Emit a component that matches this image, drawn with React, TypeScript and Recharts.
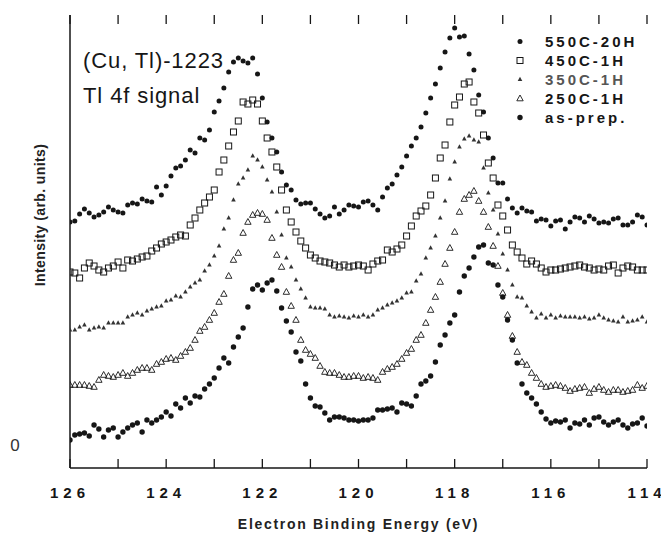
import React from 'react';
import { ScatterChart, Scatter, XAxis, YAxis, Legend, Label, ReferenceLine } from 'recharts';

// Binding energy grid (eV)
const ENERGY = [
  126.0, 125.9, 125.8, 125.7, 125.6, 125.5, 125.4, 125.3, 125.2, 125.1,
  125.0, 124.9, 124.8, 124.7, 124.6, 124.5, 124.4, 124.3, 124.2, 124.1,
  124.0, 123.9, 123.8, 123.7, 123.6, 123.5, 123.4, 123.3, 123.2, 123.1,
  123.0, 122.9, 122.8, 122.7, 122.6, 122.5, 122.4, 122.3, 122.2, 122.1,
  122.0, 121.9, 121.8, 121.7, 121.6, 121.5, 121.4, 121.3, 121.2, 121.1,
  121.0, 120.9, 120.8, 120.7, 120.6, 120.5, 120.4, 120.3, 120.2, 120.1,
  120.0, 119.9, 119.8, 119.7, 119.6, 119.5, 119.4, 119.3, 119.2, 119.1,
  119.0, 118.9, 118.8, 118.7, 118.6, 118.5, 118.4, 118.3, 118.2, 118.1,
  118.0, 117.9, 117.8, 117.7, 117.6, 117.5, 117.4, 117.3, 117.2, 117.1,
  117.0, 116.9, 116.8, 116.7, 116.6, 116.5, 116.4, 116.3, 116.2, 116.1,
  116.0, 115.9, 115.8, 115.7, 115.6, 115.5, 115.4, 115.3, 115.2, 115.1,
  115.0, 114.9, 114.8, 114.7, 114.6, 114.5, 114.4, 114.3, 114.2, 114.1,
  114.0,
];

// Intensities (arb. units, offset curves)
const S550C_20H = [
  223, 224, 231, 236, 232, 228, 230, 233, 238, 235,
  233, 232, 240, 242, 241, 246, 244, 243, 258, 250,
  259, 269, 277, 279, 285, 295, 292, 307, 305, 315,
  333, 344, 357, 373, 383, 387, 384, 382, 387, 371,
  347, 323, 307, 293, 273, 260, 255, 245, 241, 242,
  242, 236, 231, 227, 229, 238, 231, 235, 240, 239,
  238, 243, 244, 240, 235, 248, 257, 261, 270, 278,
  289, 299, 307, 318, 332, 347, 361, 377, 393, 407,
  417, 408, 409, 391, 375, 350, 333, 307, 287, 262,
  262, 246, 237, 232, 237, 234, 233, 224, 226, 225,
  219, 224, 225, 216, 223, 228, 227, 223, 229, 226,
  222, 223, 222, 226, 227, 220, 220, 223, 230, 228,
  220,
];

const S450C_1H = [
  173, 172, 167, 177, 182, 179, 175, 173, 177, 179,
  183, 177, 185, 184, 186, 188, 189, 194, 197, 201,
  203, 205, 208, 210, 209, 220, 227, 235, 242, 248,
  255, 273, 285, 299, 313, 324, 343, 341, 345, 341,
  324, 307, 293, 278, 255, 235, 223, 213, 204, 197,
  190, 187, 184, 183, 182, 180, 178, 180, 178, 179,
  180, 179, 175, 181, 184, 185, 195, 193, 196, 200,
  209, 219, 229, 234, 239, 250, 267, 287, 300, 323,
  340, 348, 361, 363, 343, 332, 310, 282, 267, 240,
  229, 215, 200, 193, 187, 181, 184, 181, 177, 173,
  175, 175, 176, 177, 178, 179, 180, 178, 177, 175,
  176, 175, 179, 180, 172, 177, 179, 178, 175, 175,
  175,
];

const S350C_1H = [
  115, 115, 118, 120, 115, 117, 118, 117, 122, 122,
  122, 122, 128, 130, 132, 130, 134, 136, 138, 139,
  144, 145, 149, 148, 153, 158, 162, 165, 174, 180,
  189, 199, 216, 227, 245, 261, 267, 275, 289, 285,
  278, 265, 253, 233, 210, 187, 178, 165, 156, 147,
  138, 137, 137, 136, 130, 128, 129, 128, 127, 129,
  128, 130, 128, 130, 135, 137, 140, 142, 144, 147,
  152, 153, 164, 171, 187, 197, 209, 227, 244, 266,
  283, 298, 306, 309, 305, 303, 277, 252, 235, 211,
  191, 175, 160, 148, 147, 139, 133, 127, 131, 127,
  130, 127, 129, 128, 128, 128, 127, 128, 126, 127,
  130, 127, 125, 124, 123, 128, 123, 124, 125, 128,
  123,
];

const S250C_1H = [
  60, 60, 60, 60, 59, 58, 65, 70, 69, 68,
  70, 72, 69, 72, 75, 77, 77, 75, 81, 83,
  86, 87, 85, 89, 93, 97, 105, 114, 118, 125,
  132, 143, 151, 169, 185, 192, 212, 223, 230, 232,
  231, 225, 207, 190, 178, 153, 139, 125, 105, 95,
  91, 87, 79, 73, 72, 72, 70, 68, 68, 69,
  69, 67, 68, 67, 65, 73, 76, 78, 81, 86,
  92, 96, 105, 110, 122, 135, 148, 163, 181, 197,
  213, 233, 246, 250, 254, 244, 233, 218, 199, 179,
  152, 130, 109, 93, 83, 80, 72, 67, 61, 58,
  59, 60, 59, 57, 54, 56, 57, 58, 52, 56,
  58, 55, 53, 55, 55, 53, 54, 55, 60, 57,
  59,
];

const AS_PREP = [
  5, 10, 11, 12, 9, 20, 16, 8, 15, 17,
  8, 13, 17, 20, 22, 13, 25, 22, 25, 28,
  33, 29, 41, 37, 47, 42, 49, 48, 56, 61,
  67, 77, 87, 82, 98, 108, 117, 138, 156, 160,
  155, 162, 165, 154, 137, 124, 113, 93, 84, 61,
  47, 39, 38, 32, 25, 28, 28, 27, 25, 25,
  24, 25, 25, 27, 35, 35, 36, 37, 33, 42,
  41, 39, 49, 61, 64, 69, 83, 100, 110, 122,
  130, 153, 169, 177, 188, 198, 200, 182, 180, 160,
  148, 125, 105, 82, 61, 52, 47, 41, 33, 26,
  22, 24, 23, 25, 17, 22, 21, 25, 20, 27,
  28, 23, 20, 23, 25, 20, 17, 21, 22, 27,
  19,
];

const X_TICKS = [126, 125, 124, 123, 122, 121, 120, 119, 118, 117, 116, 115, 114];
const X_LABELED = [126, 124, 122, 120, 118, 116, 114];
const Y_TICKS = [0];
const Y_DOMAIN = [-23, 430];
const TICK_LEN = 9; // in intensity units (= px here)

const SERIES_NAMES = ['550C-20H', '450C-1H', '350C-1H', '250C-1H', 'as-prep.'];

const toPoints = (ys: number[]) => ENERGY.map((x, i) => ({ x, y: ys[i] }));

const FONT = '"Liberation Sans", Arial, Helvetica, sans-serif';
const INK = '#161616';

type MarkerKind = 'dot' | 'square' | 'tri' | 'otri' | 'bigdot';

function Marker({ kind, cx, cy }: { kind: MarkerKind; cx: number; cy: number }) {
  if (cx == null || cy == null || isNaN(cx) || isNaN(cy)) return null;
  switch (kind) {
    case 'dot':
      return <circle cx={cx} cy={cy} r={2.5} fill={INK} />;
    case 'bigdot':
      return <circle cx={cx} cy={cy} r={2.7} fill={INK} />;
    case 'square':
      return <rect x={cx - 3} y={cy - 3} width={6} height={6} fill="none" stroke={INK} strokeWidth={1} />;
    case 'tri':
      return (
        <polygon
          points={`${cx},${cy - 2.7} ${cx - 2.3},${cy + 1.6} ${cx + 2.3},${cy + 1.6}`}
          fill="#333"
        />
      );
    case 'otri':
      return (
        <polygon
          points={`${cx},${cy - 3.5} ${cx - 3.2},${cy + 2.3} ${cx + 3.2},${cy + 2.3}`}
          fill="none"
          stroke={INK}
          strokeWidth={0.9}
        />
      );
  }
  return null;
}

const KINDS: MarkerKind[] = ['dot', 'square', 'tri', 'otri', 'bigdot'];
const DATA_SETS = [S550C_20H, S450C_1H, S350C_1H, S250C_1H, AS_PREP];

const BottomTick = (props: any) => {
  const { x, y, payload } = props;
  const v = payload.value;
  if (!X_LABELED.includes(v)) return <g />;
  return (
    <text
      x={x}
      y={y + 30}
      textAnchor="middle"
      fontFamily={FONT}
      fontWeight="bold"
      fontSize={15}
      letterSpacing={5}
      fill={INK}
    >
      {v}
    </text>
  );
};

const LeftTick = (props: any) => {
  const { x, y, payload } = props;
  return (
    <text x={x - 55} y={y + 6} textAnchor="middle" fontFamily={FONT} fontSize={17} fill="#333">
      {payload.value}
    </text>
  );
};

const LegendContent = () => (
  <div style={{ fontFamily: FONT }}>
    {SERIES_NAMES.map((name, i) => (
      <div key={name} style={{ display: 'flex', alignItems: 'center', height: 19 }}>
        <svg width={16} height={19} style={{ display: 'block' }}>
          <Marker kind={KINDS[i]} cx={8} cy={9.5} />
        </svg>
        <span
          style={{
            marginLeft: 17,
            fontSize: 15,
            fontWeight: 'bold',
            letterSpacing: 3,
            color: i === 2 ? '#555' : INK,
            whiteSpace: 'nowrap',
            lineHeight: '19px',
          }}
        >
          {name}
        </span>
      </div>
    ))}
  </div>
);

export default function App() {
  return (
    <div style={{ position: 'relative', width: 661, height: 527 }}>
      <ScatterChart width={661} height={527} margin={{ top: 7, right: 22, bottom: 0, left: 12 }}>
        <XAxis
          xAxisId="bottom"
          dataKey="x"
          type="number"
          domain={[114, 126]}
          reversed
          ticks={X_TICKS}
          interval={0}
          height={67}
          tickSize={0}
          tickMargin={0}
          tickLine={false}
          axisLine={{ stroke: INK, strokeWidth: 1.5 }}
          tick={<BottomTick />}
          allowDataOverflow
        >
          <Label
            content={(p: any) => {
              const vb = p.viewBox || { x: 62, y: 460, width: 577 };
              return (
                <text
                  x={vb.x + vb.width / 2}
                  y={vb.y + 61}
                  textAnchor="middle"
                  fontFamily={FONT}
                  fontWeight="bold"
                  fontSize={14}
                  letterSpacing={1.7}
                  fill="#222"
                >
                  Electron Binding Energy (eV)
                </text>
              );
            }}
          />
        </XAxis>
        <XAxis
          xAxisId="top"
          orientation="top"
          dataKey="x"
          type="number"
          domain={[114, 126]}
          reversed
          ticks={X_TICKS}
          height={0}
          tick={false}
          tickLine={false}
          axisLine={{ stroke: INK, strokeWidth: 1.5 }}
          allowDataOverflow
        />
        <YAxis
          yAxisId="left"
          dataKey="y"
          type="number"
          domain={Y_DOMAIN}
          ticks={Y_TICKS}
          width={50}
          tickSize={0}
          tickMargin={0}
          tickLine={false}
          axisLine={{ stroke: INK, strokeWidth: 1.5 }}
          tick={<LeftTick />}
          allowDataOverflow
        >
          <Label
            content={(p: any) => {
              const vb = p.viewBox || { x: 12, y: 7 };
              const cx = vb.x + 20;
              const cy = vb.y + 200;
              return (
                <text
                  x={cx}
                  y={cy}
                  transform={`rotate(-90 ${cx} ${cy})`}
                  textAnchor="middle"
                  dominantBaseline="central"
                  fontFamily={FONT}
                  fontWeight="bold"
                  fontSize={14}
                  letterSpacing={0.4}
                  fill="#222"
                >
                  Intensity (arb. units)
                </text>
              );
            }}
          />
        </YAxis>
        <YAxis
          yAxisId="right"
          orientation="right"
          type="number"
          domain={Y_DOMAIN}
          width={0}
          tick={false}
          tickLine={false}
          axisLine={{ stroke: INK, strokeWidth: 1.5 }}
          allowDataOverflow
        />
        {X_TICKS.map((t) => (
          <ReferenceLine
            key={`b${t}`}
            xAxisId="bottom"
            yAxisId="left"
            segment={[
              { x: t, y: Y_DOMAIN[0] },
              { x: t, y: Y_DOMAIN[0] + TICK_LEN },
            ]}
            stroke={INK}
            strokeWidth={1.3}
            ifOverflow="visible"
          />
        ))}
        {X_TICKS.map((t) => (
          <ReferenceLine
            key={`t${t}`}
            xAxisId="bottom"
            yAxisId="left"
            segment={[
              { x: t, y: Y_DOMAIN[1] },
              { x: t, y: Y_DOMAIN[1] - TICK_LEN },
            ]}
            stroke={INK}
            strokeWidth={1.3}
            ifOverflow="visible"
          />
        ))}
        {DATA_SETS.map((ys, i) => (
          <Scatter
            key={SERIES_NAMES[i]}
            name={SERIES_NAMES[i]}
            data={toPoints(ys)}
            xAxisId="bottom"
            yAxisId="left"
            isAnimationActive={false}
            shape={(p: any) => <Marker kind={KINDS[i]} cx={p.cx} cy={p.cy} />}
          />
        ))}
        <Legend
          layout="vertical"
          align="center"
          verticalAlign="middle"
          content={<LegendContent />}
          wrapperStyle={{ position: 'absolute', top: 24, left: 504, width: 150 }}
        />
      </ScatterChart>
      <div
        style={{
          position: 'absolute',
          left: 75,
          top: 35,
          fontFamily: FONT,
          fontSize: 22,
          letterSpacing: 0.9,
          color: INK,
          lineHeight: '35px',
          whiteSpace: 'nowrap',
        }}
      >
        <div>(Cu, Tl)-1223</div>
        <div>Tl 4f signal</div>
      </div>
    </div>
  );
}
